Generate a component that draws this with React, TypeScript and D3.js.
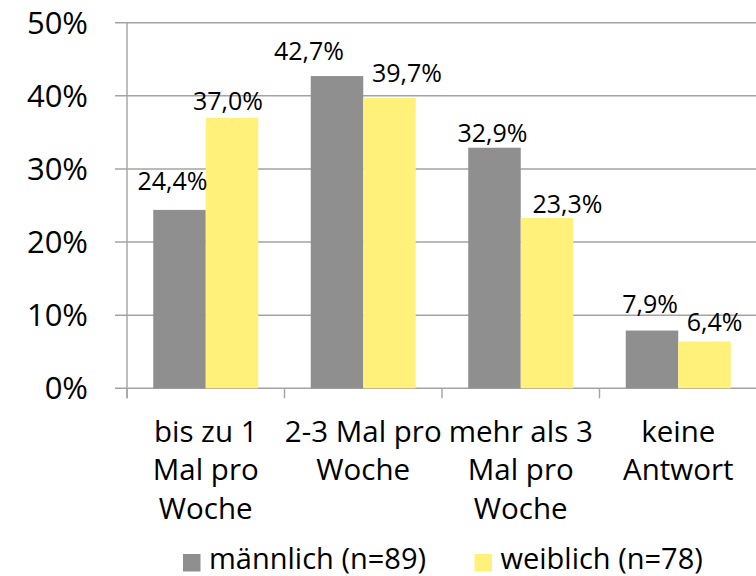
import React from "react";
import * as d3 from "d3";

const categories: string[][] = [
  ["bis zu 1", "Mal pro", "Woche"],
  ["2-3 Mal pro", "Woche"],
  ["mehr als 3", "Mal pro", "Woche"],
  ["keine", "Antwort"],
];
const seriesNames = ["männlich (n=89)", "weiblich (n=78)"];
const male = [24.4, 42.7, 32.9, 7.9];
const female = [37.0, 39.7, 23.3, 6.4];
const yTicks = [0, 10, 20, 30, 40, 50];

// layout-only nudges for the data labels (dx, dy from bar top)
const maleNudge = [[-7, -19.6], [-28, -16], [-2, -5.5], [-2, -18]];
const femaleNudge = [[-4, -7.5], [17.5, -16], [20.5, -4.7], [10, -11]];

const W = 756, H = 576;
const FONT = "'Open Sans', 'Noto Sans', sans-serif";
const colors = ["#8f8f8f", "#fff17a"];
const gridColor = "#a3a3a3";

export default function App() {
  const x0 = 127, x1 = 757;
  const yTop = 22.7, yBot = 388.3;
  const x = d3.scaleBand<number>().domain(d3.range(categories.length)).range([x0, x1]).paddingInner(0).paddingOuter(0);
  const y = d3.scaleLinear().domain([0, 50]).range([yBot, yTop]);
  const bw = x.bandwidth();
  const barW = bw / 3;
  const pad = (bw - 2 * barW) / 2;
  const series = [male, female];
  const nudges = [maleNudge, femaleNudge];
  const fmt = (v: number) => v.toFixed(1).replace(".", ",") + "%";

  return (
    <svg width={W} height={H} style={{ position: "absolute", left: 0, top: 0, background: "#fff" }} fontFamily={FONT}>
      {yTicks.map((t) => (
        <g key={t}>
          <line x1={115} x2={W} y1={y(t)} y2={y(t)} stroke={gridColor} strokeWidth={1.4} />
          <text x={88} y={y(t)} dy="0.36em" textAnchor="end" fontSize={31} fill="#000">
            {t + "%"}
          </text>
        </g>
      ))}
      <line x1={x0} x2={x0} y1={yTop} y2={yBot + 10} stroke={gridColor} strokeWidth={1.4} />
      {d3.range(categories.length + 1).map((i) => {
        const xx = x0 + i * bw;
        return <line key={i} x1={xx} x2={xx} y1={yBot} y2={yBot + 10} stroke={gridColor} strokeWidth={1.4} />;
      })}
      {series.map((vals, s) =>
        vals.map((v, i) => {
          const bx = (x(i) as number) + pad + s * barW;
          return (
            <rect key={`b${s}-${i}`} x={bx} y={y(v)} width={barW} height={yBot - y(v)} fill={colors[s]} />
          );
        })
      )}
      {series.map((vals, s) =>
        vals.map((v, i) => {
          const cx = (x(i) as number) + pad + s * barW + barW / 2;
          const [dx, dy] = nudges[s][i];
          return (
            <text key={`l${s}-${i}`} x={cx + dx} y={y(v) + dy} textAnchor="middle" fontSize={25} fill="#000">
              {fmt(v)}
            </text>
          );
        })
      )}
      {categories.map((lines, i) => {
        const cx = (x(i) as number) + bw / 2;
        return lines.map((ln, j) => (
          <text key={`c${i}-${j}`} x={cx} y={441.7 + j * 38.7} textAnchor="middle" fontSize={29.5} fill="#000">
            {ln}
          </text>
        ));
      })}
      {seriesNames.map((name, s) => {
        const lx = s === 0 ? 183 : 474.5;
        return (
          <g key={name}>
            <rect x={lx} y={554} width={17.5} height={17.5} fill={colors[s]} />
            <text x={lx + 26} y={569} fontSize={29} fill="#000">
              {name}
            </text>
          </g>
        );
      })}
    </svg>
  );
}
